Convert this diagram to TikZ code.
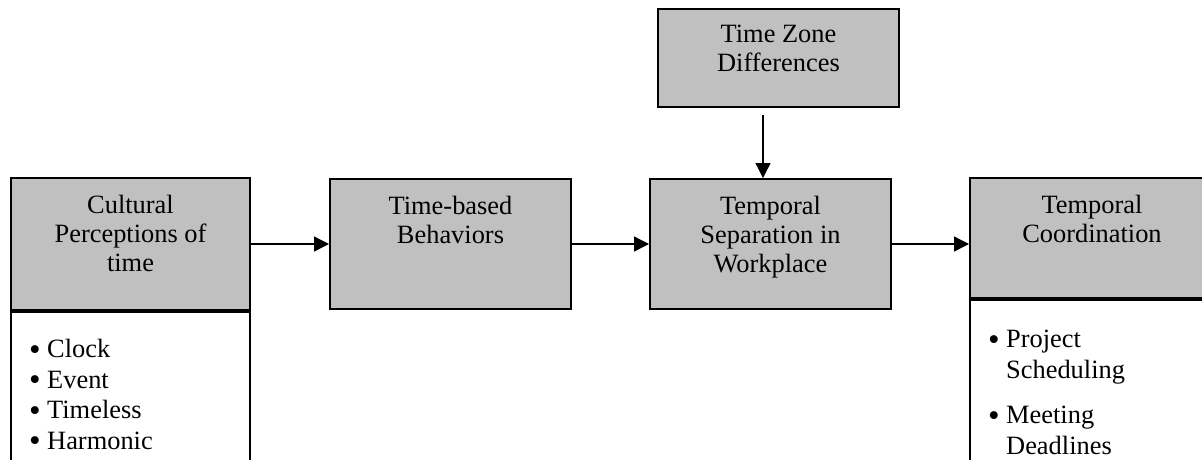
\documentclass[tikz,border=0pt]{standalone}
\usepackage{fontspec}
\setmainfont{Liberation Serif}
\usetikzlibrary{positioning,arrows.meta}
\definecolor{boxgray}{HTML}{C0C0C0}
\newcommand{\bitem}[1]{\par\hangindent=18pt\hangafter=1\noindent\makebox[18pt][l]{\raisebox{-2.5pt}{\scalebox{1.25}{\textbullet}}}#1}

\begin{document}
\begin{tikzpicture}[x=1pt,y=-1pt,
  graybox/.style={draw,line width=2pt,fill=boxgray,anchor=north west,inner sep=0pt,minimum width=241pt,minimum height=130pt},
  listbox/.style={draw,line width=2pt,anchor=north west,inner sep=0pt,minimum height=175pt},
  head/.style={align=center,inner sep=0pt,font=\fontsize{26.4}{29}\selectfont},
  items/.style={align=left,inner sep=0pt,text width=190pt,font=\fontsize{26.4}{30.5}\selectfont\setlength{\parskip}{0pt}},
  arr/.style={line width=1.3pt,-{Triangle[length=15pt,width=15pt]}}]
  \path[use as bounding box,clip] (0,0) rectangle (1202,459);
  % boxes
  \node[graybox,minimum width=239pt,minimum height=132pt] (cult) at (10,177) {};
  \node[listbox,minimum width=239pt] (cultlist) at (cult.south west) {};
  \node[graybox] (beh) at (329,178) {};
  \node[graybox] (sep) at (649,178) {};
  \node[graybox,minimum height=98pt] (tz) at (657,8) {};
  \node[graybox,minimum width=244pt,minimum height=120pt] (coord) at (969,177) {};
  \node[listbox,minimum width=244pt] (coordlist) at (coord.south west) {};
  % texts
  \node[head,below=18pt of cult.north] (culttxt) {Cultural\\Perceptions of\\time};
  \node[head,below=18pt of beh.north] (behtxt) {Time-based\\Behaviors};
  \node[head,below=18pt of sep.north] (septxt) {Temporal\\Separation in\\Workplace};
  \node[head,below=17pt of tz.north] (tztxt) {Time Zone\\Differences};
  \node[head,below=18pt of coord.north] (coordtxt) {Temporal\\Coordination};
  \node[items,below right=16pt and 19pt of cultlist.north west] (cultitems)
    {\bitem{Clock}\bitem{Event}\bitem{Timeless}\bitem{Harmonic}\par};
  \node[items,below right=18pt and 19pt of coordlist.north west] (coorditems)
    {\bitem{Project\newline Scheduling}\par\vskip15pt\bitem{Meeting\newline Deadlines}\par};
  % arrows
  \draw[arr] (cult.east) -- (beh.west);
  \draw[arr] (beh.east) -- (sep.west);
  \draw[arr] (sep.east) -- (sep.east -| coord.west);
  \coordinate (tzout) at ([xshift=-15.5pt,yshift=-7pt]tz.south);
  \draw[arr] (tzout) -- (tzout |- sep.north);
\end{tikzpicture}
\end{document}
